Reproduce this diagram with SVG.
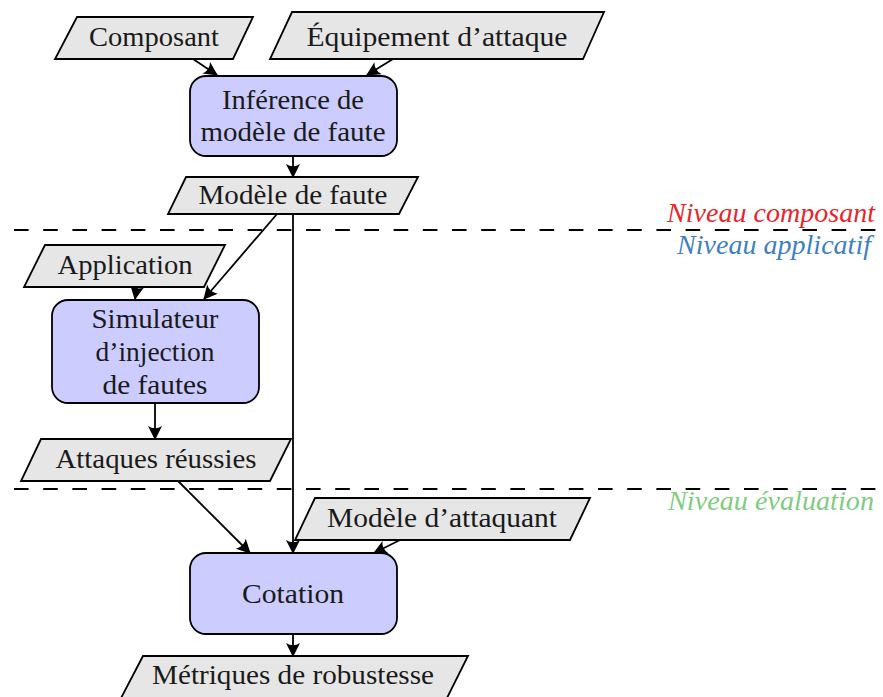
<svg xmlns="http://www.w3.org/2000/svg" width="883" height="697" viewBox="0 0 883 697">
<defs>
<marker id="arr" markerUnits="userSpaceOnUse" markerWidth="18" markerHeight="18" viewBox="-15 -9 18 18" refX="0" refY="0" orient="auto">
<path d="M1,0 L-13,-7 Q-8.5,0 -13,7 Z" fill="#000"/>
</marker>
</defs>
<style>
.proc{fill:#ccccff;stroke:#000;stroke-width:1.8}
.data{fill:#e6e6e6;stroke:#000;stroke-width:1.8;stroke-linejoin:miter}
.t{font-family:"Liberation Serif","Times New Roman",serif;font-size:27px;fill:#1a1a1a;text-anchor:middle}
.lvl{font-family:"Liberation Serif","Times New Roman",serif;font-size:27px;font-style:italic;text-anchor:end}
.c{fill:none;stroke:#000;stroke-width:1.8;marker-end:url(#arr)}
.dash{fill:none;stroke:#000;stroke-width:2;stroke-dasharray:14.6 14.6}
</style>
<rect width="883" height="697" fill="#fff"/>
<g id="levels">
<line class="dash" x1="14" y1="230" x2="877" y2="230"/>
<line class="dash" x1="14" y1="489" x2="877" y2="489"/>
<text class="lvl" x="875" y="222" fill="#e8252c" textLength="208" lengthAdjust="spacingAndGlyphs">Niveau composant</text>
<text class="lvl" x="871" y="254" fill="#3f7fc1" textLength="194" lengthAdjust="spacingAndGlyphs">Niveau applicatif</text>
<text class="lvl" x="874" y="510" fill="#80cc80" textLength="206" lengthAdjust="spacingAndGlyphs">Niveau évaluation</text>
</g>
<g id="connectors">
<line class="c" x1="193" y1="59" x2="217" y2="75"/>
<line class="c" x1="393" y1="59" x2="367" y2="75"/>
<line class="c" x1="293" y1="156" x2="293" y2="177"/>
<line class="c" x1="277" y1="214" x2="204" y2="299"/>
<line class="c" x1="293" y1="214" x2="293" y2="553"/>
<line class="c" x1="137" y1="287" x2="135" y2="299"/>
<line class="c" x1="155" y1="403" x2="155" y2="439"/>
<line class="c" x1="178" y1="481" x2="250" y2="553"/>
<line class="c" x1="400" y1="540" x2="374" y2="553"/>
<line class="c" x1="293" y1="634" x2="293" y2="656"/>
</g>
<g id="composant">
<polygon class="data" points="77,17 253,17 233,59 55,59"/>
<text class="t" x="154" y="46" textLength="130" lengthAdjust="spacingAndGlyphs">Composant</text>
</g>
<g id="equipement">
<polygon class="data" points="292,12 604,12 583,59 270,59"/>
<text class="t" x="437" y="46" textLength="261" lengthAdjust="spacingAndGlyphs">Équipement d’attaque</text>
</g>
<g id="inference">
<rect class="proc" x="190" y="76" width="207" height="80" rx="16"/>
<text class="t" x="293" y="109" textLength="142" lengthAdjust="spacingAndGlyphs">Inférence de</text>
<text class="t" x="293" y="141" textLength="185" lengthAdjust="spacingAndGlyphs">modèle de faute</text>
</g>
<g id="modele-faute">
<polygon class="data" points="186,177 418,177 399,214 168,214"/>
<text class="t" x="293" y="204" textLength="189" lengthAdjust="spacingAndGlyphs">Modèle de faute</text>
</g>
<g id="application">
<polygon class="data" points="45,245 225,245 204,287 24,287"/>
<text class="t" x="125" y="274" textLength="135" lengthAdjust="spacingAndGlyphs">Application</text>
</g>
<g id="simulateur">
<rect class="proc" x="52" y="300" width="207" height="103" rx="16"/>
<text class="t" x="155" y="328" textLength="127" lengthAdjust="spacingAndGlyphs">Simulateur</text>
<text class="t" x="155" y="361" textLength="119" lengthAdjust="spacingAndGlyphs">d’injection</text>
<text class="t" x="155" y="394" textLength="105" lengthAdjust="spacingAndGlyphs">de fautes</text>
</g>
<g id="attaques">
<polygon class="data" points="41,439 291,439 270,481 21,481"/>
<text class="t" x="156" y="468" textLength="201" lengthAdjust="spacingAndGlyphs">Attaques réussies</text>
</g>
<g id="modele-attaquant">
<polygon class="data" points="315,498 590,498 570,540 295,540"/>
<text class="t" x="442" y="527" textLength="230" lengthAdjust="spacingAndGlyphs">Modèle d’attaquant</text>
</g>
<g id="cotation">
<rect class="proc" x="190" y="553" width="207" height="81" rx="16"/>
<text class="t" x="293" y="603" textLength="102" lengthAdjust="spacingAndGlyphs">Cotation</text>
</g>
<g id="metriques">
<polygon class="data" points="143,656 468,656 446,700 120,700"/>
<text class="t" x="293" y="684" textLength="282" lengthAdjust="spacingAndGlyphs">Métriques de robustesse</text>
</g>
</svg>
